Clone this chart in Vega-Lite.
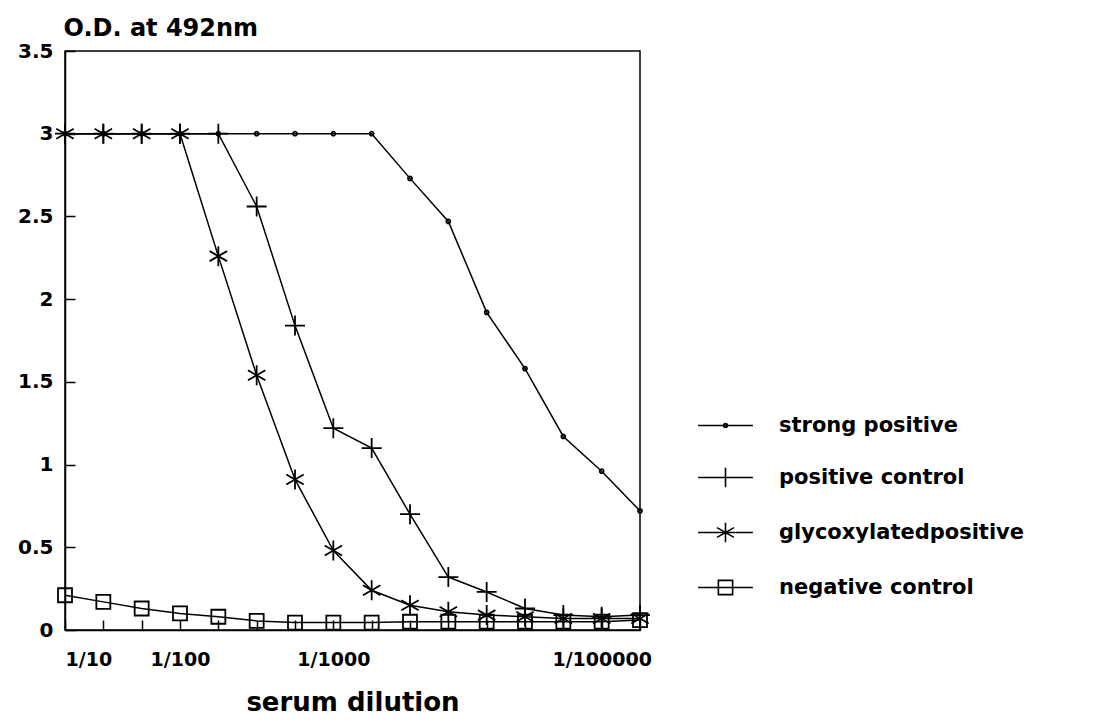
{
  "$schema": "https://vega.github.io/schema/vega-lite/v6.json",
  "autosize": {"type": "none"},
  "padding": {"left": 65, "top": 51, "right": 453, "bottom": 92},
  "width": 575,
  "height": 579,
  "background": "white",
  "data": {"values": [
    {"step": 0, "series": "strong positive", "od": 3.0},
    {"step": 1, "series": "strong positive", "od": 3.0},
    {"step": 2, "series": "strong positive", "od": 3.0},
    {"step": 3, "series": "strong positive", "od": 3.0},
    {"step": 4, "series": "strong positive", "od": 3.0},
    {"step": 5, "series": "strong positive", "od": 3.0},
    {"step": 6, "series": "strong positive", "od": 3.0},
    {"step": 7, "series": "strong positive", "od": 3.0},
    {"step": 8, "series": "strong positive", "od": 3.0},
    {"step": 9, "series": "strong positive", "od": 2.73},
    {"step": 10, "series": "strong positive", "od": 2.47},
    {"step": 11, "series": "strong positive", "od": 1.92},
    {"step": 12, "series": "strong positive", "od": 1.58},
    {"step": 13, "series": "strong positive", "od": 1.17},
    {"step": 14, "series": "strong positive", "od": 0.96},
    {"step": 15, "series": "strong positive", "od": 0.72},
    {"step": 0, "series": "positive control", "od": 3.0},
    {"step": 1, "series": "positive control", "od": 3.0},
    {"step": 2, "series": "positive control", "od": 3.0},
    {"step": 3, "series": "positive control", "od": 3.0},
    {"step": 4, "series": "positive control", "od": 3.0},
    {"step": 5, "series": "positive control", "od": 2.56},
    {"step": 6, "series": "positive control", "od": 1.84},
    {"step": 7, "series": "positive control", "od": 1.22},
    {"step": 8, "series": "positive control", "od": 1.1},
    {"step": 9, "series": "positive control", "od": 0.7},
    {"step": 10, "series": "positive control", "od": 0.32},
    {"step": 11, "series": "positive control", "od": 0.23},
    {"step": 12, "series": "positive control", "od": 0.13},
    {"step": 13, "series": "positive control", "od": 0.09},
    {"step": 14, "series": "positive control", "od": 0.08},
    {"step": 15, "series": "positive control", "od": 0.09},
    {"step": 0, "series": "glycoxylatedpositive", "od": 3.0},
    {"step": 1, "series": "glycoxylatedpositive", "od": 3.0},
    {"step": 2, "series": "glycoxylatedpositive", "od": 3.0},
    {"step": 3, "series": "glycoxylatedpositive", "od": 3.0},
    {"step": 4, "series": "glycoxylatedpositive", "od": 2.26},
    {"step": 5, "series": "glycoxylatedpositive", "od": 1.54},
    {"step": 6, "series": "glycoxylatedpositive", "od": 0.91},
    {"step": 7, "series": "glycoxylatedpositive", "od": 0.48},
    {"step": 8, "series": "glycoxylatedpositive", "od": 0.24},
    {"step": 9, "series": "glycoxylatedpositive", "od": 0.15},
    {"step": 10, "series": "glycoxylatedpositive", "od": 0.11},
    {"step": 11, "series": "glycoxylatedpositive", "od": 0.09},
    {"step": 12, "series": "glycoxylatedpositive", "od": 0.08},
    {"step": 13, "series": "glycoxylatedpositive", "od": 0.07},
    {"step": 14, "series": "glycoxylatedpositive", "od": 0.07},
    {"step": 15, "series": "glycoxylatedpositive", "od": 0.07},
    {"step": 0, "series": "negative control", "od": 0.21},
    {"step": 1, "series": "negative control", "od": 0.17},
    {"step": 2, "series": "negative control", "od": 0.13},
    {"step": 3, "series": "negative control", "od": 0.1},
    {"step": 4, "series": "negative control", "od": 0.08},
    {"step": 5, "series": "negative control", "od": 0.055},
    {"step": 6, "series": "negative control", "od": 0.045},
    {"step": 7, "series": "negative control", "od": 0.045},
    {"step": 8, "series": "negative control", "od": 0.045},
    {"step": 9, "series": "negative control", "od": 0.05},
    {"step": 10, "series": "negative control", "od": 0.05},
    {"step": 11, "series": "negative control", "od": 0.05},
    {"step": 12, "series": "negative control", "od": 0.05},
    {"step": 13, "series": "negative control", "od": 0.05},
    {"step": 14, "series": "negative control", "od": 0.05},
    {"step": 15, "series": "negative control", "od": 0.06}
  ]},
  "encoding": {
    "x": {
      "field": "step", "type": "quantitative",
      "scale": {"domain": [0, 15], "nice": false, "zero": false},
      "axis": {
        "values": [0, 1, 2, 3, 4, 5, 6, 7, 8, 9, 10, 11, 12, 13, 14, 15],
        "labelExpr": "datum.value == 0 ? '1/10' : datum.value == 3 ? '1/100' : datum.value == 7 ? '1/1000' : datum.value == 14 ? '1/100000' : ''",
        "title": "serum dilution",
        "titleFontSize": 26,
        "titleY": 80,
        "titleBaseline": "alphabetic",
        "tickSize": -10,
        "labelPadding": 30,
        "labelFontSize": 19,
        "grid": false
      }
    },
    "y": {
      "field": "od", "type": "quantitative",
      "scale": {"domain": [0, 3.5], "nice": false},
      "axis": {
        "values": [0, 0.5, 1, 1.5, 2, 2.5, 3, 3.5],
        "format": "~g",
        "title": "O.D. at 492nm",
        "titleAngle": 0,
        "titleAlign": "left",
        "titleBaseline": "alphabetic",
        "titleX": -2,
        "titleY": -16,
        "titleFontSize": 24,
        "tickSize": -10,
        "labelPadding": 22,
        "labelFontSize": 20,
        "grid": false
      }
    }
  },
  "layer": [
    {
      "mark": {"type": "line", "color": "black", "strokeWidth": 1.5},
      "encoding": {"detail": {"field": "series", "type": "nominal"}}
    },
    {
      "mark": {"type": "point", "filled": false, "color": "black", "strokeWidth": 1.8, "size": 400, "opacity": 1},
      "encoding": {
        "shape": {
          "field": "series", "type": "nominal",
          "scale": {
            "domain": ["strong positive", "positive control", "glycoxylatedpositive", "negative control"],
            "range": [
              "M-0.2,0A0.2,0.2 0 1,0 0.2,0A0.2,0.2 0 1,0 -0.2,0Z",
              "M-1,0H1M0,-1V1",
              "M0,-1V1M-0.87,-0.5L0.87,0.5M-0.87,0.5L0.87,-0.5",
              "M-0.7,-0.7H0.7V0.7H-0.7Z"
            ]
          },
          "legend": null
        }
      }
    },
    {
      "transform": [{"filter": "datum.step < 0"}],
      "mark": {"type": "point", "filled": false, "color": "black", "strokeWidth": 1.6, "size": 3000, "opacity": 1},
      "encoding": {
        "shape": {
          "field": "series", "type": "nominal",
          "scale": {
            "domain": ["strong positive", "positive control", "glycoxylatedpositive", "negative control"],
            "range": [
              "M-1,0H1M-0.07,0A0.07,0.07 0 1,0 0.07,0A0.07,0.07 0 1,0 -0.07,0Z",
              "M-1,0H1M0,-0.36V0.36",
              "M-1,0H1M0,-0.36V0.36M-0.31,-0.18L0.31,0.18M-0.31,0.18L0.31,-0.18",
              "M-1,0H1M-0.26,-0.26H0.26V0.26H-0.26Z"
            ]
          },
          "legend": {
            "orient": "none",
            "legendX": 632,
            "legendY": 346,
            "title": null,
            "padding": 0,
            "symbolSize": 3000,
            "symbolStrokeWidth": 1.6,
            "symbolStrokeColor": "black",
            "labelFontSize": 21,
            "labelFont": "DejaVu Sans",
            "labelFontWeight": "bold",
            "labelColor": "black",
            "labelOffset": 25,
            "labelLimit": 400,
            "rowPadding": 13
          }
        }
      }
    }
  ],
  "resolve": {"scale": {"shape": "independent"}, "legend": {"shape": "independent"}},
  "config": {
    "font": "DejaVu Sans",
    "view": {"stroke": "black", "strokeWidth": 1.5},
    "axis": {
      "domainColor": "black",
      "domainWidth": 1.5,
      "tickColor": "black",
      "tickWidth": 1.5,
      "labelColor": "black",
      "labelFont": "DejaVu Sans",
      "labelFontWeight": "bold",
      "titleColor": "black",
      "titleFont": "DejaVu Sans",
      "titleFontWeight": "bold"
    }
  }
}
